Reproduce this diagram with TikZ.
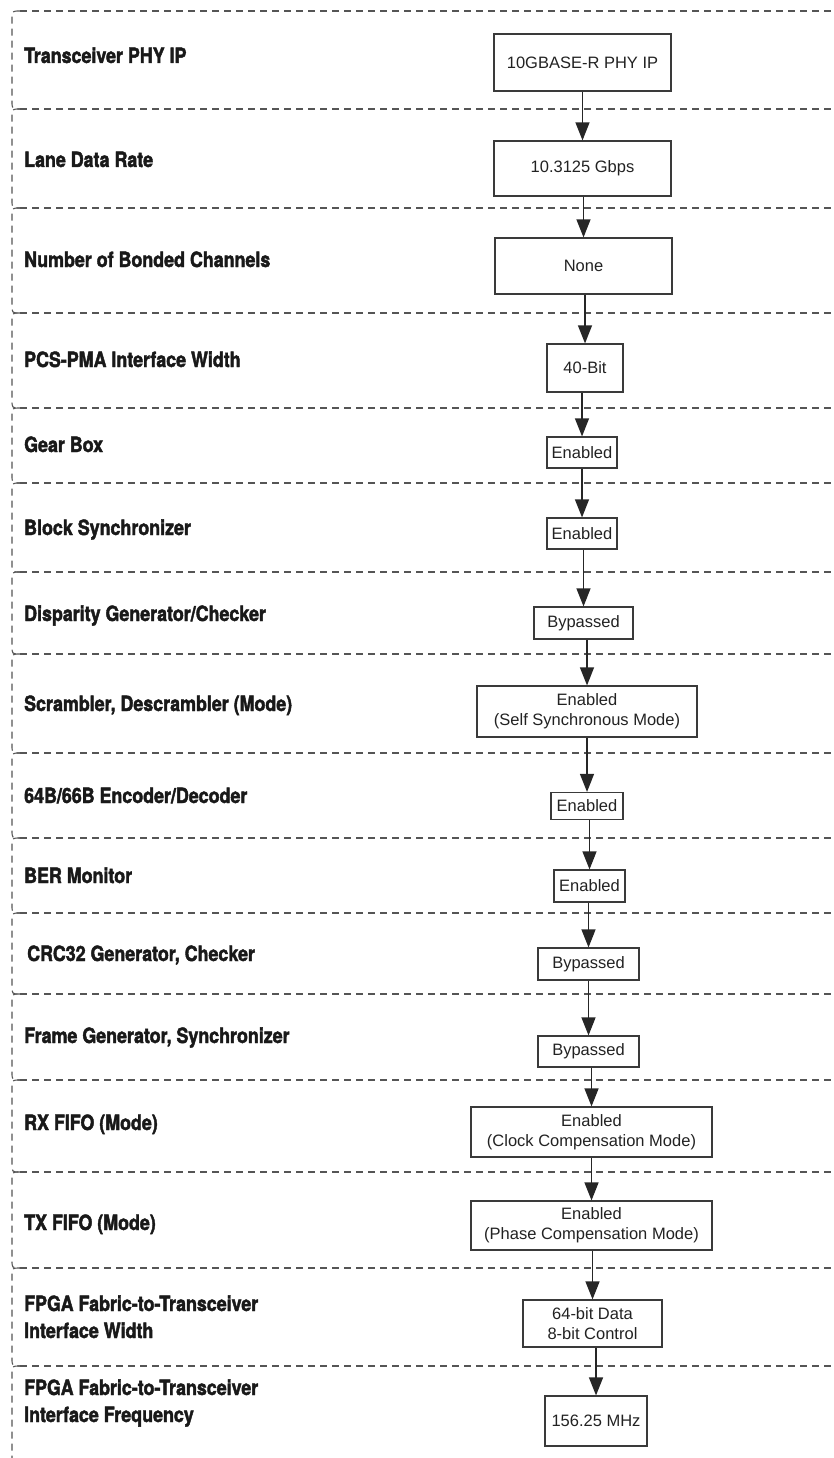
\documentclass[tikz,border=0pt]{standalone}
\usepackage{fontspec}
\setmainfont{Liberation Sans}
\newfontfamily\lblfont{TeX Gyre Heros}[FakeStretch=0.85,BoldFeatures={FakeBold=2}]
\usetikzlibrary{arrows.meta}
\definecolor{inkline}{HTML}{3A3A3A}
\definecolor{dashgray}{HTML}{555555}
\definecolor{textgray}{HTML}{222222}
\tikzset{
  sep/.style={draw=dashgray,line width=1.1pt,dash pattern=on 7pt off 5pt},
  lbl/.style={anchor=base west,inner sep=0pt,align=left,text=black!90,
    font=\lblfont\bfseries\fontsize{21}{27}\selectfont},
  val/.style={draw=inkline,line width=1.2pt,inner sep=0pt,align=center,text=textgray,
    font=\fontsize{16.5}{20}\selectfont},
  flow/.style={draw=black!85,line width=1.3pt,-{Triangle[length=18pt,width=14pt]}}
}
\begin{document}
\begin{tikzpicture}[x=1pt,y=-1pt]
\useasboundingbox (0,0) rectangle (833,1458);

% horizontal row separators
\foreach \y in {11,109,208,313,408,483,572,654,753,838,913,994,1080,1172,1268,1366}{
  \draw[sep] (20,\y) -- (833,\y);
}
% left edge of each row, with rounded corners
\foreach \t/\b in {11/109,109/208,208/313,313/408,408/483,483/572,572/654,654/753,753/838,838/913,913/994,994/1080,1080/1172,1172/1268,1268/1366}{
  \draw[sep] (20,\t) .. controls (12,\t) .. (12,\t+8) -- (12,\b-8) .. controls (12,\b) .. (20,\b);
}
\draw[sep] (20,1366) .. controls (12,1366) .. (12,1374) -- (12,1458);

% setting names
\node[lbl] (l1) at (24,63) {Transceiver PHY IP};
\node[lbl] (l2) at (24,167) {Lane Data Rate};
\node[lbl] (l3) at (24,267) {Number of Bonded Channels};
\node[lbl] (l4) at (24,367) {PCS-PMA Interface Width};
\node[lbl] (l5) at (24,452) {Gear Box};
\node[lbl] (l6) at (24,535) {Block Synchronizer};
\node[lbl] (l7) at (24,621) {Disparity Generator/Checker};
\node[lbl] (l8) at (24,711) {Scrambler, Descrambler (Mode)};
\node[lbl] (l9) at (24,803) {64B/66B Encoder/Decoder};
\node[lbl] (l10) at (24,883) {BER Monitor};
\node[lbl] (l11) at (27,961) {CRC32 Generator, Checker};
\node[lbl] (l12) at (24,1043) {Frame Generator, Synchronizer};
\node[lbl] (l13) at (24,1130) {RX FIFO (Mode)};
\node[lbl] (l14) at (24,1230) {TX FIFO (Mode)};
\node[lbl] (l15) at (24,1338) {FPGA Fabric-to-Transceiver\\Interface Width};
\node[lbl] (l16) at (24,1422) {FPGA Fabric-to-Transceiver\\Interface Frequency};

% chosen values
\node[val,minimum width=177pt,minimum height=57pt] (b1) at (582.5,62.5) {10GBASE-R PHY IP};
\node[val,minimum width=177pt,minimum height=55pt] (b2) at (582.5,168.5) {10.3125 Gbps};
\node[val,minimum width=177pt,minimum height=56pt] (b3) at (583.5,266) {None};
\node[val,minimum width=76pt,minimum height=48pt] (b4) at (585,368) {40-Bit};
\node[val,minimum width=70pt,minimum height=31pt] (b5) at (582,452.5) {Enabled};
\node[val,minimum width=70pt,minimum height=31pt] (b6) at (582,533.5) {Enabled};
\node[val,minimum width=99pt,minimum height=32pt] (b7) at (583.5,623) {Bypassed};
\node[val,minimum width=220pt,minimum height=51pt] (b8) at (587,711.5) {Enabled\\(Self Synchronous Mode)};
\node[val,minimum width=72pt,minimum height=27pt] (b9) at (587,806) {Enabled};
\node[val,minimum width=71pt,minimum height=32pt] (b10) at (589.5,886) {Enabled};
\node[val,minimum width=101pt,minimum height=32pt] (b11) at (588.5,964) {Bypassed};
\node[val,minimum width=101pt,minimum height=31pt] (b12) at (588.5,1051.5) {Bypassed};
\node[val,minimum width=241pt,minimum height=50pt] (b13) at (591.5,1132) {Enabled\\(Clock Compensation Mode)};
\node[val,minimum width=241pt,minimum height=49pt] (b14) at (591.5,1225.5) {Enabled\\(Phase Compensation Mode)};
\node[val,minimum width=139pt,minimum height=47pt] (b15) at (592.5,1323.5) {64-bit Data\\8-bit Control};
\node[val,minimum width=102pt,minimum height=50pt] (b16) at (596,1421) {156.25 MHz};

% flow between the values
\foreach \a/\b in {b1/b2,b2/b3,b3/b4,b4/b5,b5/b6,b6/b7,b7/b8,b8/b9,b9/b10,b10/b11,b11/b12,b12/b13,b13/b14,b14/b15,b15/b16}{
  \draw[flow] (\b.north |- \a.south) -- (\b.north);
}
\end{tikzpicture}
\end{document}
